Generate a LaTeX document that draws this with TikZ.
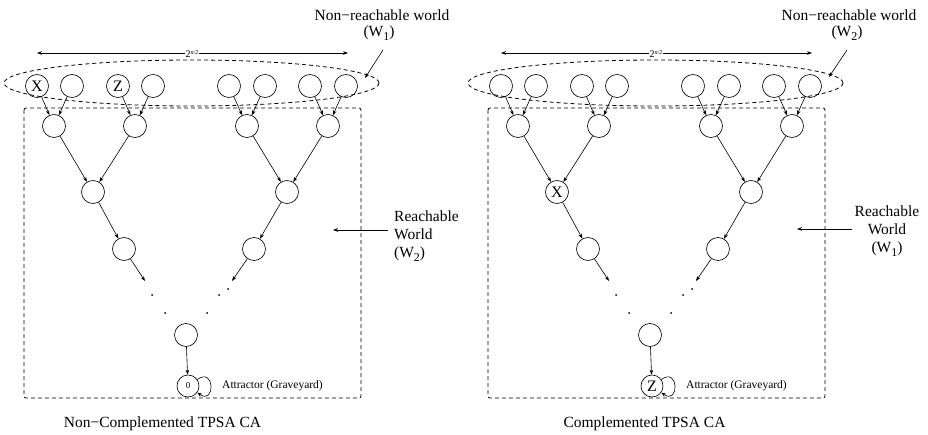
\documentclass[tikz,border=0pt]{standalone}
\usepackage{fontspec}
\setmainfont{Liberation Serif}
\usetikzlibrary{arrows.meta}
\newcommand\lowsub[1]{\raisebox{-0.55ex}{\fontsize{12pt}{12pt}\selectfont #1}}
\tikzset{
  cnode/.style={draw, circle, minimum size=23pt, inner sep=0pt, line width=0.65pt, font=\fontsize{16pt}{16pt}\selectfont},
  arr/.style={-{Stealth[length=5pt,width=3.6pt]}, line width=0.6pt},
  dbox/.style={dashed, dash pattern=on 4pt off 3pt, line width=0.8pt},
  lbl/.style={font=\fontsize{15.5pt}{18pt}\selectfont, inner sep=0pt},
  small/.style={font=\fontsize{11.5pt}{12pt}\selectfont, inner sep=0pt},
  dotm/.style={fill, circle, inner sep=0pt, minimum size=2pt},
}
\newcommand\tpsapanel[6]{%
\begin{scope}[xshift=#2pt]
  % top row
  \node[cnode] (#1t1) at (37,348) {#3};
  \node[cnode] (#1t2) at (72,348) {};
  \node[cnode] (#1t3) at (118,348) {#4};
  \node[cnode] (#1t4) at (153,348) {};
  \node[cnode] (#1t5) at (229,348) {};
  \node[cnode] (#1t6) at (265,348) {};
  \node[cnode] (#1t7) at (310,348) {};
  \node[cnode] (#1t8) at (346,348) {};
  % level 2
  \node[cnode] (#1m1) at (54,308) {};
  \node[cnode] (#1m2) at (135,308) {};
  \node[cnode] (#1m3) at (247,308) {};
  \node[cnode] (#1m4) at (328,308) {};
  % level 3
  \node[cnode] (#1l1) at (93,242) {#5};
  \node[cnode] (#1l2) at (287,242) {};
  % level 4
  \node[cnode] (#1k1) at (124,185) {};
  \node[cnode] (#1k2) at (254,185) {};
  \coordinate (#1e1) at (145,153);
  \coordinate (#1e2) at (232,153);
  % bottom
  \node[cnode] (#1b) at (186,99) {};
  \node[cnode, minimum size=22pt] (#1a) at (188,48) {#6};
  % arrows
  \draw[arr] (#1t1) -- (#1m1);
  \draw[arr] (#1t2) -- (#1m1);
  \draw[arr] (#1t3) -- (#1m2);
  \draw[arr] (#1t4) -- (#1m2);
  \draw[arr] (#1t5) -- (#1m3);
  \draw[arr] (#1t6) -- (#1m3);
  \draw[arr] (#1t7) -- (#1m4);
  \draw[arr] (#1t8) -- (#1m4);
  \draw[arr] (#1m1) -- (#1l1);
  \draw[arr] (#1m2) -- (#1l1);
  \draw[arr] (#1m3) -- (#1l2);
  \draw[arr] (#1m4) -- (#1l2);
  \draw[arr] (#1l1) -- (#1k1);
  \draw[arr] (#1l2) -- (#1k2);
  \draw[arr] (#1k1) -- (#1e1);
  \draw[arr] (#1k2) -- (#1e2);
  \draw[arr] (#1b) -- (#1a);
  \draw[arr] (#1a.35) .. controls +(18,13) and +(18,-13) .. (#1a.-35);
  % dots
  \node[dotm] (#1d1) at (152,139) {};
  \node[dotm] (#1d2) at (165,121) {};
  \node[dotm] (#1d3) at (219,139) {};
  \node[dotm] (#1d4) at (207,121) {};
  \node[dotm] (#1d5) at (228,145) {};
  % ellipse and box
  \draw[dbox] (191.5,351) ellipse [x radius=187.5, y radius=23];
  \draw[dbox, rounded corners=2pt] (24,326) rectangle (361,36);
  % width arrow
  \coordinate (#1wl) at (37,381);
  \coordinate (#1wr) at (348,381);
  \draw[{Stealth[length=5pt,width=3.6pt]}-{Stealth[length=5pt,width=3.6pt]}, line width=0.6pt] (#1wl) -- (#1wr);
  \node[fill=white, inner sep=0.8pt, font=\fontsize{10pt}{10pt}\selectfont] (#1wn) at (192,380) {2\raisebox{0.75ex}{\fontsize{6pt}{6pt}\selectfont\itshape n/2}};
  \node[small, anchor=west] (#1att) at (222,48) {Attractor (Graveyard)};
\end{scope}}
\begin{document}
\begin{tikzpicture}[x=1pt, y=1pt]
\useasboundingbox (0,0) rectangle (928,434);
\tpsapanel{L}{0}{X}{Z}{}{\fontsize{9pt}{9pt}\selectfont 0}
\tpsapanel{R}{464}{}{}{X}{Z}
% left labels
\node[lbl] (Lnr) at (382,419) {Non−reachable world};
\node[lbl] (Lnw) at (379,401) {(W\lowsub{1})};
\coordinate (Lna) at (383,384);
\coordinate (Lnb) at (365,356);
\draw[arr] (Lna) -- (Lnb);
\node[lbl, align=left, anchor=west] (Lrw) at (394,198) {Reachable\\World\\(W\lowsub{2})};
\coordinate (Lra) at (388,204);
\coordinate (Lrb) at (333,204);
\draw[arr] (Lra) -- (Lrb);
\node[lbl] (Lcap) at (162.5,10) {Non−Complemented TPSA CA};
% right labels
\node[lbl] (Rnr) at (849,419) {Non−reachable world};
\node[lbl] (Rnw) at (847,401) {(W\lowsub{2})};
\coordinate (Rna) at (847,384);
\coordinate (Rnb) at (829,357);
\draw[arr] (Rna) -- (Rnb);
\node[lbl, align=center] (Rrw) at (887,203) {Reachable\\World\\(W\lowsub{1})};
\coordinate (Rra) at (852,205);
\coordinate (Rrb) at (797,205);
\draw[arr] (Rra) -- (Rrb);
\node[lbl] (Rcap) at (644.5,10) {Complemented TPSA CA};
\end{tikzpicture}
\end{document}
